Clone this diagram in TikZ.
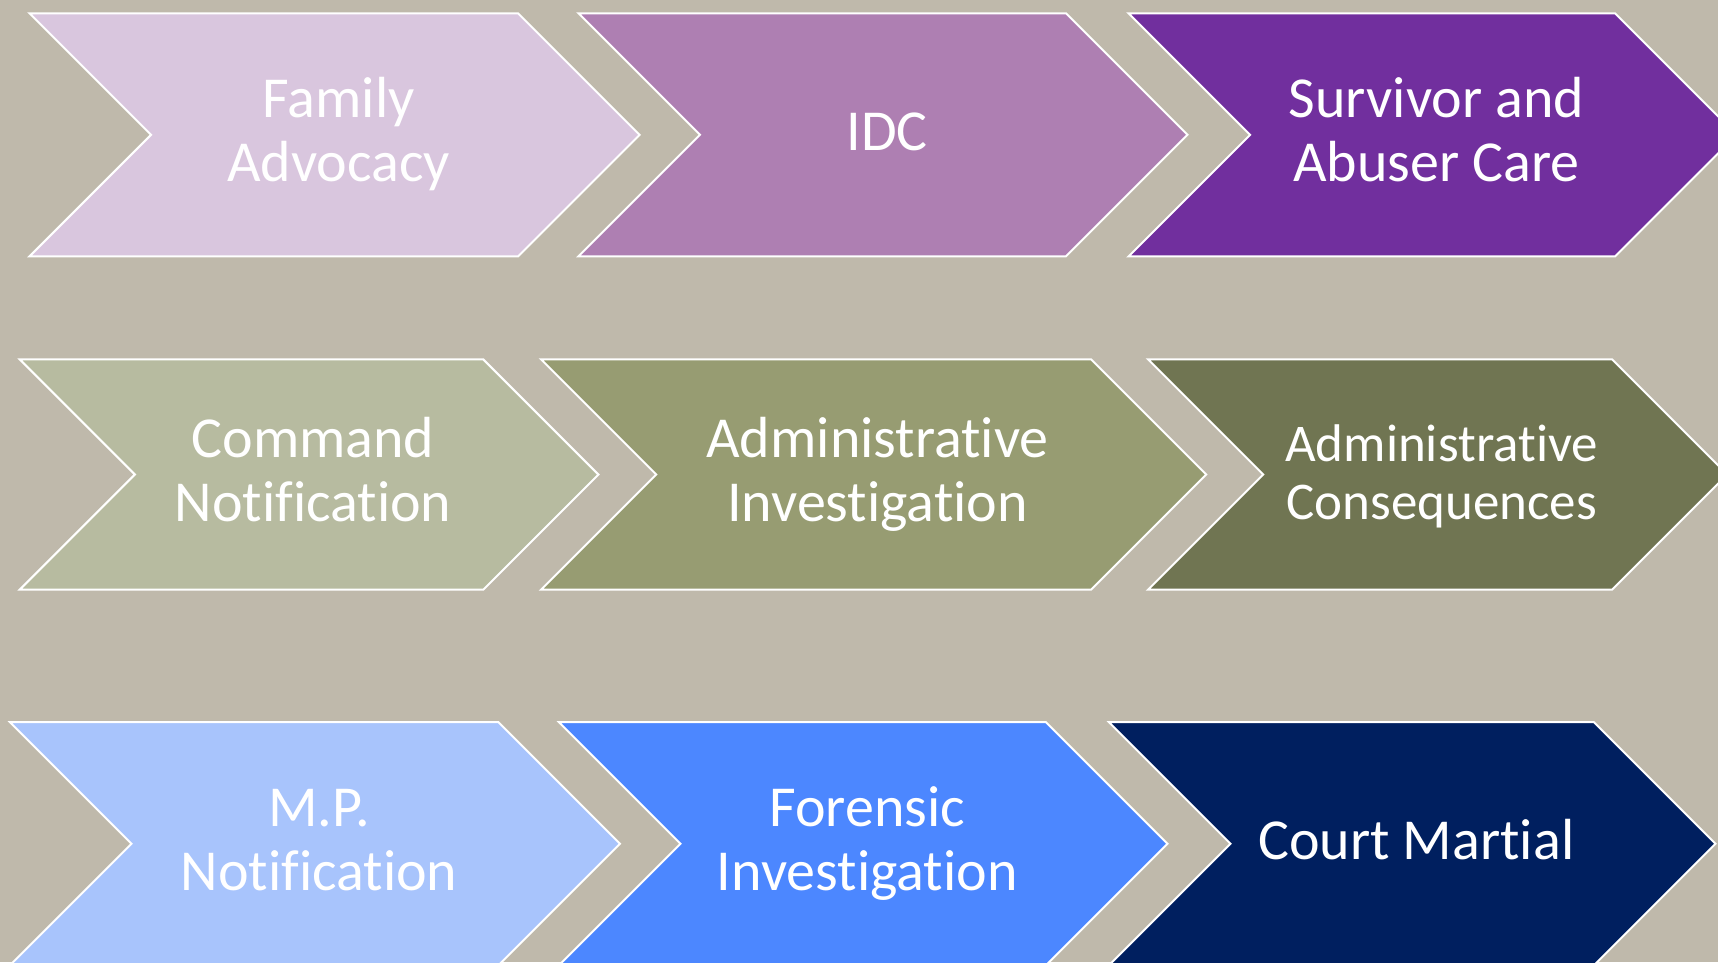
\documentclass[tikz,border=0pt]{standalone}
\usepackage{fontspec}
\setmainfont{Carlito}[Ligatures={NoCommon,NoRare,NoContextual}]
\definecolor{bgtaupe}{HTML}{BFB9AB}
\definecolor{famlav}{HTML}{D9C6DE}
\definecolor{idcmauve}{HTML}{AE7FB2}
\definecolor{carepurple}{HTML}{712F9E}
\definecolor{cmdsage}{HTML}{B7BBA0}
\definecolor{involive}{HTML}{979C72}
\definecolor{consolive}{HTML}{707552}
\definecolor{mpsky}{HTML}{A8C4FC}
\definecolor{forblue}{HTML}{4C87FF}
\definecolor{courtnavy}{HTML}{001F5F}
% [label options] #2 left x, #3 middle y, #4 body width, #5 half height, #6 colour, #7 name, #8 text
\newcommand{\chevbox}[8][twoline]{%
	\draw[chev,fill=#6] ({#2},{#3-#5}) --++ (#4,0) --++ (#5,#5) --++ (-#5,#5) --++ (-#4,0) --++ (#5,-#5) -- cycle;
	\node[lbl,#1] (#7) at ({#2+0.5*(#4+#5)+4},#3) {#8};}
\begin{document}
\begin{tikzpicture}[x=1pt,y=-1pt,line join=miter,
		chev/.style={draw=white,line width=2pt},
		lbl/.style={text=white,align=center,inner sep=0pt,anchor=base,font=\fontsize{58}{64}\selectfont},
		twoline/.style={yshift=-47pt},
		oneline/.style={yshift=-16pt}]
		\useasboundingbox (0,0) rectangle (1718,962);
		\clip (0,0) rectangle (1718,962);
		\fill[bgtaupe] (0,0) rectangle (1718,962);
		% first row
		\chevbox{29.6}{134.8}{488.5}{121.5}{famlav}{family}{Family\\Advocacy}
		\chevbox[oneline]{578.5}{134.8}{487.5}{121.5}{idcmauve}{idc}{IDC}
		\chevbox{1128.6}{134.8}{486.5}{121.5}{carepurple}{care}{Survivor and\\Abuser Care}
		% second row
		\chevbox{19.7}{474.5}{463.5}{115.2}{cmdsage}{command}{Command\\Notification}
		\chevbox{541}{474.5}{550}{115.2}{involive}{admininv}{Administrative\\Investigation}
		\chevbox[yshift=-44.5pt,font=\fontsize{53}{57.5}\selectfont]{1148}{474.5}{464}{115.2}{consolive}{admincons}{Administrative\\Consequences}
		% third row
		\chevbox{10}{843.7}{488.5}{121.5}{mpsky}{mp}{M.P.\\Notification}
		\chevbox{559}{843.7}{487}{121.5}{forblue}{forensic}{Forensic\\Investigation}
		\chevbox[oneline]{1109}{843.7}{485}{121.5}{courtnavy}{court}{Court Martial}
	\end{tikzpicture}
\end{document}
